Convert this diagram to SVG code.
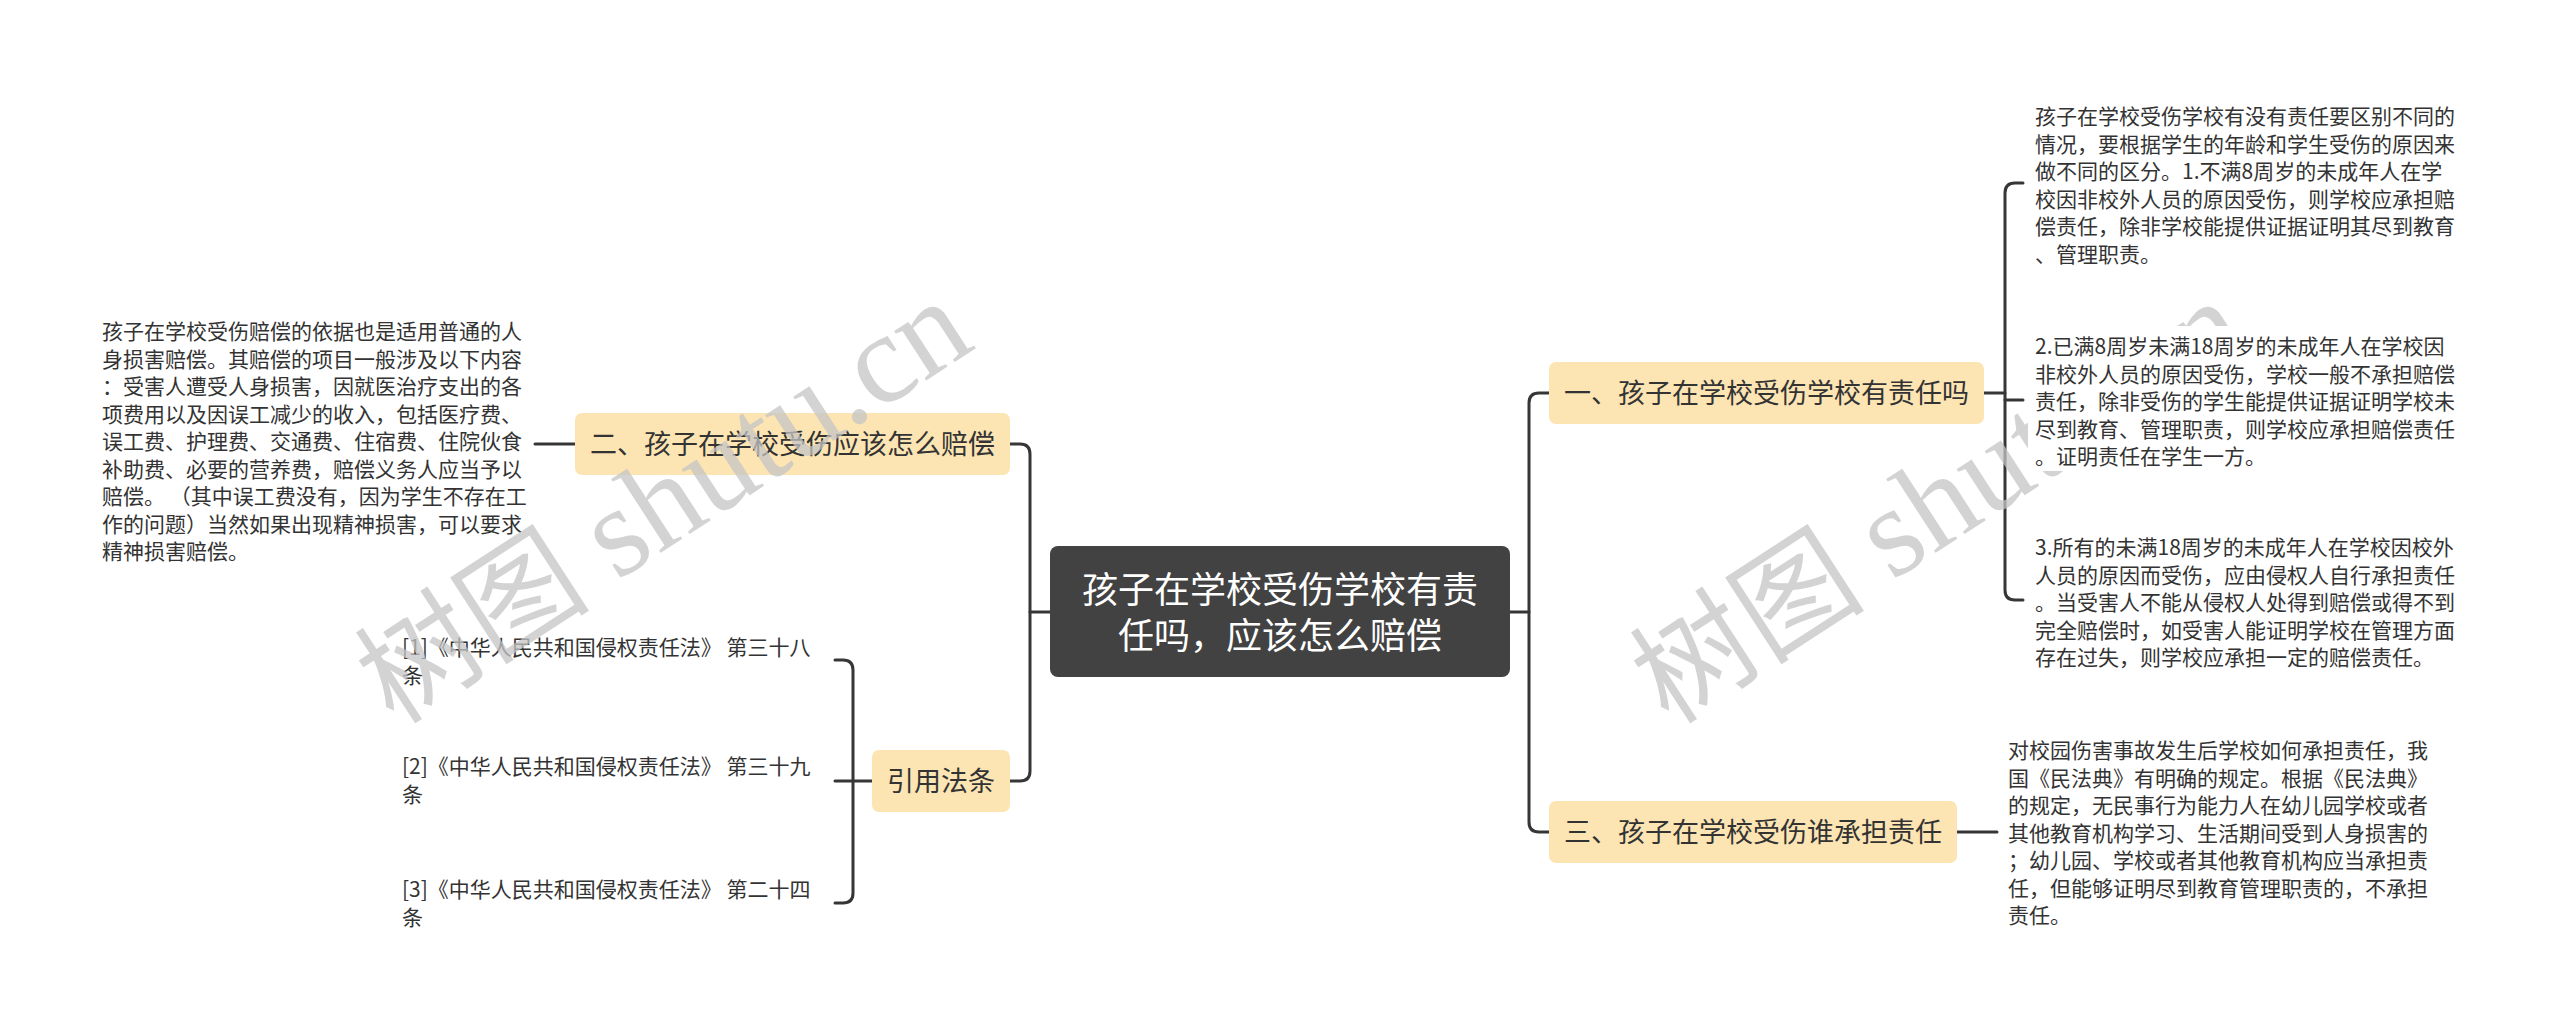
<svg xmlns="http://www.w3.org/2000/svg" width="2560" height="1031" viewBox="0 0 2560 1031">
<style>
  .bg { fill: #ffffff; }
  .conn { fill: none; stroke: #363636; stroke-width: 3; stroke-linecap: round; }
  .sub { fill: #fce5b3; }
  .root { fill: #424242; }
  .t { font-family: "Noto Sans CJK SC", "Noto Sans", sans-serif; fill: #333333; }
  .body { font-size: 21px; }
  .ref { font-size: 21px; }
  .subt { font-size: 27px; }
  .roott { font-size: 36px; fill: #ffffff; }
  .wm { font-family: "Liberation Serif", "Noto Sans CJK SC", serif; fill: #c4c4c4; fill-opacity: 0.75; }
  .wmc { font-size: 118px; }
  .wml { font-size: 128px; }
</style>
<rect class="bg" x="0" y="0" width="2560" height="1031"/>

<g id="connectors">
  <path class="conn" d="M1050,612 H1030"/>
  <path class="conn" d="M1010,444 H1020 Q1030,444 1030,454 V771 Q1030,781 1020,781 H1010"/>
  <path class="conn" d="M1510,612 H1529"/>
  <path class="conn" d="M1549,393 H1539 Q1529,393 1529,403 V822 Q1529,832 1539,832 H1549"/>
  <path class="conn" d="M1984,393 H2005"/>
  <path class="conn" d="M2023,183 H2015 Q2005,183 2005,193 V590 Q2005,600 2015,600 H2023"/>
  <path class="conn" d="M2005,400 H2023"/>
  <path class="conn" d="M1957,832 H1997"/>
  <path class="conn" d="M575,444 H535"/>
  <path class="conn" d="M872,781 H835"/>
  <path class="conn" d="M835,660 H843 Q853,660 853,670 V893 Q853,903 843,903 H835"/>
</g>

<g id="root">
  <rect class="root" x="1050" y="546" width="460" height="131" rx="8"/>
  <text class="t roott" x="1280" y="603" text-anchor="middle">孩子在学校受伤学校有责</text>
  <text class="t roott" x="1280" y="649" text-anchor="middle">任吗，应该怎么赔偿</text>
</g>

<g id="node-1">
  <rect class="sub" x="1549" y="362" width="435" height="62" rx="7"/>
  <text class="t subt" x="1564" y="403">一、孩子在学校受伤学校有责任吗</text>
</g>

<g id="node-3">
  <rect class="sub" x="1549" y="801" width="408" height="62" rx="7"/>
  <text class="t subt" x="1564" y="842">三、孩子在学校受伤谁承担责任</text>
</g>

<g id="node-2">
  <rect class="sub" x="575" y="413" width="435" height="62" rx="7"/>
  <text class="t subt" x="590" y="454">二、孩子在学校受伤应该怎么赔偿</text>
</g>

<g id="node-refs">
  <rect class="sub" x="872" y="750" width="138" height="62" rx="7"/>
  <text class="t subt" x="887" y="791">引用法条</text>
</g>

<g id="node-2-text">
  <text class="t body" x="102" y="339">孩子在学校受伤赔偿的依据也是适用普通的人</text>
  <text class="t body" x="102" y="366.5">身损害赔偿。其赔偿的项目一般涉及以下内容</text>
  <text class="t body" x="102" y="394">：受害人遭受人身损害，因就医治疗支出的各</text>
  <text class="t body" x="102" y="421.5">项费用以及因误工减少的收入，包括医疗费、</text>
  <text class="t body" x="102" y="449">误工费、护理费、交通费、住宿费、住院伙食</text>
  <text class="t body" x="102" y="476.5">补助费、必要的营养费，赔偿义务人应当予以</text>
  <text class="t body" x="102" y="504">赔偿。 （其中误工费没有，因为学生不存在工</text>
  <text class="t body" x="102" y="531.5">作的问题）当然如果出现精神损害，可以要求</text>
  <text class="t body" x="102" y="559">精神损害赔偿。</text>
</g>

<g id="ref-1">
  <text class="t ref" x="402" y="655">[1]《中华人民共和国侵权责任法》 第三十八</text>
  <text class="t ref" x="402" y="683">条</text>
</g>
<g id="ref-2">
  <text class="t ref" x="402" y="774">[2]《中华人民共和国侵权责任法》 第三十九</text>
  <text class="t ref" x="402" y="802">条</text>
</g>
<g id="ref-3">
  <text class="t ref" x="402" y="897">[3]《中华人民共和国侵权责任法》 第二十四</text>
  <text class="t ref" x="402" y="925">条</text>
</g>

<g id="watermarks">
  <text class="wm" transform="translate(394,726) rotate(-33)"><tspan class="wmc">树图 </tspan><tspan class="wml">shutu.cn</tspan></text>
  <text class="wm" transform="translate(1669,726) rotate(-33)"><tspan class="wmc">树图 </tspan><tspan class="wml">shutu.cn</tspan></text>
</g>

<g id="node-1-text-1">
  <rect class="bg" x="2028" y="96" width="460" height="172"/>
  <text class="t body" x="2035" y="124">孩子在学校受伤学校有没有责任要区别不同的</text>
  <text class="t body" x="2035" y="151.5">情况，要根据学生的年龄和学生受伤的原因来</text>
  <text class="t body" x="2035" y="179">做不同的区分。1.不满8周岁的未成年人在学</text>
  <text class="t body" x="2035" y="206.5">校因非校外人员的原因受伤，则学校应承担赔</text>
  <text class="t body" x="2035" y="234">偿责任，除非学校能提供证据证明其尽到教育</text>
  <text class="t body" x="2035" y="261.5">、管理职责。</text>
</g>

<g id="node-1-text-2">
  <rect class="bg" x="2028" y="326" width="460" height="145"/>
  <text class="t body" x="2035" y="354">2.已满8周岁未满18周岁的未成年人在学校因</text>
  <text class="t body" x="2035" y="381.5">非校外人员的原因受伤，学校一般不承担赔偿</text>
  <text class="t body" x="2035" y="409">责任，除非受伤的学生能提供证据证明学校未</text>
  <text class="t body" x="2035" y="436.5">尽到教育、管理职责，则学校应承担赔偿责任</text>
  <text class="t body" x="2035" y="464">。证明责任在学生一方。</text>
</g>

<g id="node-1-text-3">
  <rect class="bg" x="2028" y="527" width="460" height="145"/>
  <text class="t body" x="2035" y="555">3.所有的未满18周岁的未成年人在学校因校外</text>
  <text class="t body" x="2035" y="582.5">人员的原因而受伤，应由侵权人自行承担责任</text>
  <text class="t body" x="2035" y="610">。当受害人不能从侵权人处得到赔偿或得不到</text>
  <text class="t body" x="2035" y="637.5">完全赔偿时，如受害人能证明学校在管理方面</text>
  <text class="t body" x="2035" y="665">存在过失，则学校应承担一定的赔偿责任。</text>
</g>

<g id="node-3-text">
  <rect class="bg" x="2001" y="730" width="460" height="200"/>
  <text class="t body" x="2008" y="758">对校园伤害事故发生后学校如何承担责任，我</text>
  <text class="t body" x="2008" y="785.5">国《民法典》有明确的规定。根据《民法典》</text>
  <text class="t body" x="2008" y="813">的规定，无民事行为能力人在幼儿园学校或者</text>
  <text class="t body" x="2008" y="840.5">其他教育机构学习、生活期间受到人身损害的</text>
  <text class="t body" x="2008" y="868">；幼儿园、学校或者其他教育机构应当承担责</text>
  <text class="t body" x="2008" y="895.5">任，但能够证明尽到教育管理职责的，不承担</text>
  <text class="t body" x="2008" y="923">责任。</text>
</g>
</svg>
